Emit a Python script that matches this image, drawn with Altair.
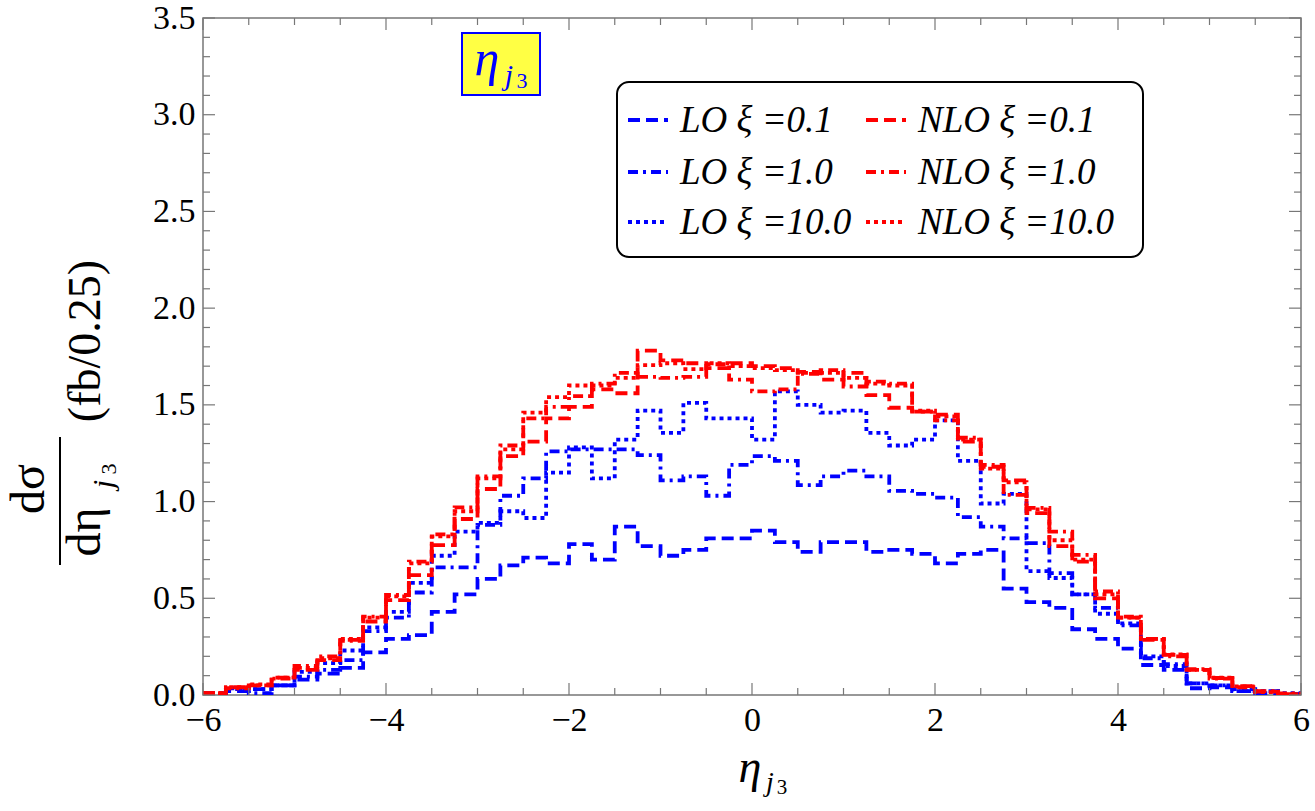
import altair as alt
import pandas as pd

# ---- histogram data: 48 bins of width 0.25 on [-6, 6] ----
X_MIN, X_MAX, BIN_W = -6.0, 6.0, 0.25

lo_01 = [0.01, 0.02, 0.03, 0.05, 0.08, 0.11, 0.14, 0.22, 0.29, 0.31,
         0.43, 0.52, 0.60, 0.67, 0.71, 0.68, 0.78, 0.70, 0.87, 0.77,
         0.72, 0.75, 0.81, 0.81, 0.85, 0.79, 0.74, 0.79, 0.79, 0.74,
         0.75, 0.73, 0.68, 0.73, 0.75, 0.55, 0.48, 0.45, 0.34, 0.29,
         0.24, 0.155, 0.13, 0.035, 0.04, 0.02, 0.01, 0.005]

lo_1 = [0.00, 0.03, 0.01, 0.05, 0.095, 0.13, 0.18, 0.33, 0.40, 0.53,
        0.66, 0.66, 0.88, 1.03, 1.12, 1.26, 1.27, 1.27, 1.27, 1.24,
        1.11, 1.13, 1.03, 1.19, 1.235, 1.21, 1.085, 1.13, 1.16, 1.13,
        1.055, 1.04, 1.02, 0.92, 0.87, 0.81, 0.785, 0.63, 0.52, 0.45,
        0.36, 0.19, 0.16, 0.06, 0.05, 0.03, 0.02, 0.005]

lo_10 = [0.01, 0.035, 0.03, 0.05, 0.12, 0.165, 0.23, 0.35, 0.43, 0.58,
         0.72, 0.845, 0.89, 0.95, 0.915, 1.15, 1.28, 1.12, 1.32, 1.47,
         1.355, 1.51, 1.43, 1.43, 1.32, 1.57, 1.50, 1.46, 1.47, 1.355,
         1.29, 1.32, 1.42, 1.21, 0.99, 1.04, 0.64, 0.605, 0.52, 0.42,
         0.37, 0.20, 0.15, 0.06, 0.05, 0.02, 0.02, 0.01]

nlo_01 = [0.01, 0.04, 0.05, 0.09, 0.13, 0.18, 0.285, 0.38, 0.49, 0.62,
          0.775, 0.91, 1.065, 1.235, 1.31, 1.43, 1.49, 1.58, 1.56, 1.78,
          1.73, 1.715, 1.69, 1.715, 1.70, 1.69, 1.67, 1.63, 1.665, 1.55,
          1.485, 1.465, 1.45, 1.31, 1.18, 1.11, 0.94, 0.77, 0.69, 0.50,
          0.40, 0.285, 0.207, 0.13, 0.088, 0.046, 0.017, 0.005]

nlo_1 = [0.01, 0.035, 0.05, 0.085, 0.15, 0.20, 0.28, 0.405, 0.517, 0.69,
         0.83, 0.97, 1.13, 1.29, 1.43, 1.49, 1.545, 1.61, 1.665, 1.645,
         1.64, 1.645, 1.71, 1.63, 1.57, 1.58, 1.66, 1.68, 1.595, 1.62,
         1.61, 1.465, 1.42, 1.33, 1.19, 1.035, 0.967, 0.845, 0.724, 0.535,
         0.405, 0.29, 0.20, 0.134, 0.085, 0.04, 0.02, 0.008]

nlo_10 = [0.01, 0.04, 0.055, 0.09, 0.14, 0.19, 0.29, 0.40, 0.51, 0.68,
          0.82, 0.95, 1.12, 1.27, 1.46, 1.54, 1.60, 1.60, 1.64, 1.705,
          1.715, 1.685, 1.715, 1.70, 1.69, 1.68, 1.665, 1.665, 1.64, 1.61,
          1.60, 1.47, 1.44, 1.32, 1.17, 1.10, 0.96, 0.80, 0.70, 0.52,
          0.40, 0.29, 0.21, 0.13, 0.09, 0.045, 0.015, 0.006]

series_labels = ["LO \u03be =0.1", "LO \u03be =1.0", "LO \u03be =10.0",
                 "NLO \u03be =0.1", "NLO \u03be =1.0", "NLO \u03be =10.0"]

x_ticks = [-6, -4, -2, 0, 2, 4, 6]
y_ticks = [0.0, 0.5, 1.0, 1.5, 2.0, 2.5, 3.0, 3.5]
x_minor = [v / 2 for v in range(-12, 13) if v % 4 != 0]
y_minor = [v / 10 for v in range(0, 36) if v % 5 != 0]

# ---- styling ----
W, H = 1098, 677
FONT = "Liberation Serif"
BLUE, RED = "#0000ff", "#ff0000"
DASHED = [12, 6]
DOTDASH = [10, 5, 3, 5]
DOTTED = [4, 4]
LW = 3.8
FRAME = "#777777"

x_scale = alt.Scale(domain=[X_MIN, X_MAX], nice=False, zero=False)
y_scale = alt.Scale(domain=[0, 3.5], nice=False, zero=True)
x_axis = alt.Axis(values=x_ticks, format="d", labelFont=FONT, labelFontSize=34,
                  labelColor="black", ticks=False, domain=False, grid=False,
                  labelPadding=8, labelFlush=False, labelOverlap=False)
y_axis = alt.Axis(values=y_ticks, format=".1f", labelFont=FONT, labelFontSize=34,
                  labelColor="black", ticks=False, domain=False, grid=False,
                  labelPadding=8, labelFlush=False, labelOverlap=False)


def X(field):
    return alt.X(field, type="quantitative", scale=x_scale, axis=x_axis, title=None)


def Y(field):
    return alt.Y(field, type="quantitative", scale=y_scale, axis=y_axis, title=None)


def step_layer(values, color, dash):
    xs = [X_MIN + BIN_W * i for i in range(len(values))] + [X_MAX]
    ys = list(values) + [values[-1]]
    df = pd.DataFrame({"x": xs, "y": ys})
    return alt.Chart(df).mark_line(
        interpolate="step-after", color=color, strokeDash=dash,
        strokeWidth=LW, strokeCap="butt", clip=True
    ).encode(x=X("x"), y=Y("y"))


def tick_layers(vals, length):
    df = pd.DataFrame({"v": vals})
    base = alt.Chart(df).mark_rule(color=FRAME, strokeWidth=1.2)
    return [
        base.encode(x=X("v"), y=alt.value(H), y2=alt.value(H - length)),
        base.encode(x=X("v"), y=alt.value(0), y2=alt.value(length)),
    ]


def ytick_layers(vals, length):
    df = pd.DataFrame({"v": vals})
    base = alt.Chart(df).mark_rule(color=FRAME, strokeWidth=1.2)
    return [
        base.encode(y=Y("v"), x=alt.value(0), x2=alt.value(length)),
        base.encode(y=Y("v"), x=alt.value(W), x2=alt.value(W - length)),
    ]


one = pd.DataFrame({"t": [""]})


def label(txt, x, y, size, color="black", italic=False, angle=0, align="center",
          baseline="middle"):
    kw = dict(font=FONT, fontSize=size, color=color, align=align, baseline=baseline)
    if italic:
        kw["fontStyle"] = "italic"
    if angle:
        kw["angle"] = angle
    return alt.Chart(pd.DataFrame({"t": [txt]})).mark_text(**kw).encode(
        x=alt.value(x), y=alt.value(y), text="t:N")


layers = []

# histogram curves (LO below NLO)
layers += [
    step_layer(lo_01, BLUE, DASHED),
    step_layer(lo_1, BLUE, DOTDASH),
    step_layer(lo_10, BLUE, DOTTED),
    step_layer(nlo_01, RED, DASHED),
    step_layer(nlo_1, RED, DOTDASH),
    step_layer(nlo_10, RED, DOTTED),
]

# inward frame ticks
layers += tick_layers(x_ticks, 12) + tick_layers(x_minor, 7)
layers += ytick_layers(y_ticks, 12) + ytick_layers(y_minor, 7)

# legend box
layers.append(alt.Chart(one).mark_rect(
    fill="white", stroke="black", strokeWidth=2, cornerRadius=12
).encode(x=alt.value(414), x2=alt.value(940), y=alt.value(64), y2=alt.value(239)))

rows_y = [102, 154, 204]
styles = [DASHED, DOTDASH, DOTTED]
for col, (color, sx, tx) in enumerate([(BLUE, 425, 477), (RED, 663, 715)]):
    for r in range(3):
        layers.append(alt.Chart(one).mark_rule(
            color=color, strokeWidth=LW, strokeDash=styles[r], strokeCap="butt"
        ).encode(x=alt.value(sx), x2=alt.value(sx + 40), y=alt.value(rows_y[r])))
        layers.append(label(series_labels[col * 3 + r], tx, rows_y[r] + 1, 37,
                            italic=True, align="left"))

# variable tag box
layers.append(alt.Chart(one).mark_rect(
    fill="#ffff44", stroke=BLUE, strokeWidth=2
).encode(x=alt.value(259), x2=alt.value(337), y=alt.value(15), y2=alt.value(77)))
layers.append(label("\u03b7", 284, 42, 50, color=BLUE, italic=True))
layers.append(label("j", 306, 58, 30, color=BLUE, italic=True))
layers.append(label("3", 319, 63, 22, color=BLUE))

# x axis title
layers.append(label("\u03b7", 547, 750, 46, italic=True))
layers.append(label("j", 567, 765, 28, italic=True))
layers.append(label("3", 579, 770, 21))

# y axis title: d\u03c3 / d\u03b7_j3 (fb/0.25), rotated
layers.append(label("d\u03c3", -173, 471, 48, angle=270))
layers.append(alt.Chart(one).mark_rule(color="black", strokeWidth=2).encode(
    x=alt.value(-143), y=alt.value(419), y2=alt.value(547)))
layers.append(label("d\u03b7", -117, 514, 48, angle=270, italic=False))
layers.append(label("j", -99, 466, 30, angle=270, italic=True))
layers.append(label("3", -94, 451, 22, angle=270))
layers.append(label("(fb/0.25)", -117, 323, 46, angle=270))

chart = alt.layer(*layers).properties(
    width=W, height=H,
    padding={"left": 203, "top": 18, "right": 14, "bottom": 116},
    autosize=alt.AutoSizeParams(type="none"),
).configure_view(stroke=FRAME, strokeWidth=1.5)

chart.save("out.html", embed_options={"renderer": "svg", "actions": False})
